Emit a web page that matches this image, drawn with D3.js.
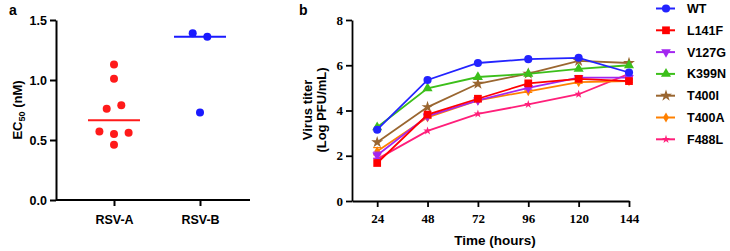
<!DOCTYPE html>
<html>
<head>
<meta charset="utf-8">
<script src="https://cdn.jsdelivr.net/npm/d3@7"></script>
<style>
  body { margin: 0; background: #fff; }
  svg { display: block; }
</style>
</head>
<body>
<svg id="chart" width="730" height="251"></svg>
<script>
// panel a data
const groups = ["RSV-A", "RSV-B"];
const rsvA = [1.13, 1.01, 0.76, 0.79, 0.57, 0.55, 0.56, 0.46];
const rsvB = [1.39, 1.36, 0.73];
const ec50Ticks = [0, 0.5, 1.0, 1.5];

// panel b data
const hours = [24, 48, 72, 96, 120, 144];
const strains = ["WT", "L141F", "V127G", "K399N", "T400I", "T400A", "F488L"];
const wt    = [3.15, 5.35, 6.10, 6.27, 6.33, 5.68];
const l141f = [1.68, 3.82, 4.52, 5.20, 5.40, 5.30];
const v127g = [2.02, 3.75, 4.45, 5.00, 5.45, 5.45];
const k399n = [3.26, 4.98, 5.48, 5.62, 5.84, 6.00];
const t400i = [2.60, 4.15, 5.18, 5.63, 6.19, 6.10];
const t400a = [2.20, 3.70, 4.45, 4.85, 5.25, 5.30];
const f488l = [1.85, 3.10, 3.85, 4.27, 4.72, 5.62];
const errV127G = [0.14, 0.05, 0.05, 0.05, 0.05, 0.05];
const errT400A = [0.16, 0.05, 0.05, 0.05, 0.05, 0.05];
const titerTicks = [0, 2, 4, 6, 8];

const SANS = '"Liberation Sans", Arial, sans-serif';
const SERIF = '"Liberation Serif", "Times New Roman", serif';

const svg = d3.select("#chart");

// ---------- panel a ----------
const ya = d3.scaleLinear().domain([0, 1.5]).range([200, 20]);
const xa = d3.scalePoint().domain(groups).range([114, 200]);
const colorsA = { "RSV-A": "#ff1a1a", "RSV-B": "#1a1aff" };

const gA = svg.append("g");

const yAxisA = d3.axisLeft(ya).tickValues(ec50Ticks).tickFormat(d3.format(".1f"))
  .tickSize(6).tickPadding(3).tickSizeOuter(0);
gA.append("g").attr("transform", "translate(56,0)").call(yAxisA);

const xAxisA = d3.axisBottom(xa).tickSize(6).tickPadding(9).tickSizeOuter(0);
const gxA = gA.append("g").attr("transform", "translate(0,200)").call(xAxisA);
gxA.select(".domain").remove();
gA.append("line").attr("x1", 56).attr("x2", 250).attr("y1", 200).attr("y2", 200)
  .attr("stroke", "#000").attr("stroke-width", 2);

gA.selectAll(".domain, .tick line").attr("stroke", "#000").attr("stroke-width", 2);
gA.selectAll(".tick text").style("font-family", SANS).style("font-weight", "bold")
  .attr("font-size", 12.5).attr("fill", "#000");

// simple row-based jitter like a scatter dot plot
function spread(vals, yScale) {
  const rows = [];
  vals.forEach(v => {
    const last = rows[rows.length - 1];
    if (last && Math.abs(yScale(v) - yScale(last[0])) < 9) last.push(v);
    else rows.push([v]);
  });
  const out = [];
  rows.forEach(r => r.forEach((v, i) => out.push({ v, dx: (i - (r.length - 1) / 2) * 14.6 })));
  return out;
}

[["RSV-A", rsvA], ["RSV-B", rsvB]].forEach(([g, vals]) => {
  const med = d3.median(vals);
  gA.append("line")
    .attr("x1", xa(g) - 26).attr("x2", xa(g) + 26)
    .attr("y1", ya(med)).attr("y2", ya(med))
    .attr("stroke", colorsA[g]).attr("stroke-width", 2);
  gA.selectAll(null).data(spread(vals, ya)).enter().append("circle")
    .attr("cx", d => xa(g) + d.dx)
    .attr("cy", d => ya(d.v))
    .attr("r", 4)
    .attr("fill", colorsA[g]);
});

const labA = gA.append("text").style("font-family", SANS).style("font-weight", "bold")
  .attr("font-size", 13)
  .attr("transform", "translate(22,110) rotate(-90)").attr("text-anchor", "middle");
labA.append("tspan").text("EC");
labA.append("tspan").attr("font-size", 9).attr("dy", 3).text("50");
labA.append("tspan").attr("dy", -3).text(" (nM)");

svg.append("text").style("font-family", SANS).style("font-weight", "bold").attr("font-size", 14)
  .attr("x", 9).attr("y", 15).text("a");

// ---------- panel b ----------
const xb = d3.scaleLinear().domain([12, 144]).range([352, 629]);
const yb = d3.scaleLinear().domain([0, 8]).range([201, 20]);

const gB = svg.append("g");
gB.append("g").attr("transform", "translate(352,0)")
  .call(d3.axisLeft(yb).tickValues(titerTicks).tickSize(6).tickPadding(3).tickSizeOuter(0));
gB.append("g").attr("transform", "translate(0,201)")
  .call(d3.axisBottom(xb).tickValues(hours).tickSize(6).tickPadding(7).tickSizeOuter(0));
gB.selectAll(".domain, .tick line").attr("stroke", "#000").attr("stroke-width", 1.8);
gB.selectAll(".tick text").style("font-family", SERIF).style("font-weight", "bold")
  .attr("font-size", 13).attr("fill", "#000");

gB.append("text").style("font-family", SANS).style("font-weight", "bold").attr("font-size", 13.5)
  .attr("x", 495).attr("y", 245).attr("text-anchor", "middle").text("Time (hours)");
const labB = gB.append("text").style("font-family", SANS).style("font-weight", "bold")
  .attr("font-size", 13)
  .attr("transform", "translate(312,110) rotate(-90)").attr("text-anchor", "middle");
labB.append("tspan").attr("x", 0).text("Virus titer");
labB.append("tspan").attr("x", 0).attr("dy", 14).text("(Log PFU/mL)");

svg.append("text").style("font-family", SANS).style("font-weight", "bold").attr("font-size", 14)
  .attr("x", 299).attr("y", 15).text("b");

const series = [
  { name: "WT",    vals: wt,    color: "#2323ff", sym: d3.symbolCircle,   size: 52, rot: 0 },
  { name: "L141F", vals: l141f, color: "#ff0000", sym: d3.symbolSquare,   size: 60, rot: 0 },
  { name: "V127G", vals: v127g, color: "#a326f0", sym: d3.symbolTriangle, size: 40, rot: 180, err: errV127G },
  { name: "K399N", vals: k399n, color: "#3cbf1a", sym: d3.symbolTriangle, size: 44, rot: 0 },
  { name: "T400I", vals: t400i, color: "#9a6630", sym: d3.symbolStar,     size: 44, rot: 0 },
  { name: "T400A", vals: t400a, color: "#ff8000", sym: d3.symbolDiamond,  size: 30, rot: 0, err: errT400A },
  { name: "F488L", vals: f488l, color: "#ff1f7a", sym: d3.symbolStar,     size: 22, rot: 0 }
];

const line = d3.line().x((d, i) => xb(hours[i])).y(d => yb(d));

// draw last series first so WT ends on top
series.slice().reverse().forEach(s => {
  const g = gB.append("g");
  if (s.err) {
    s.err.forEach((e, i) => {
      const x = xb(hours[i]);
      g.append("line").attr("x1", x).attr("x2", x)
        .attr("y1", yb(s.vals[i] - e)).attr("y2", yb(s.vals[i] + e))
        .attr("stroke", s.color).attr("stroke-width", 1.2);
      [s.vals[i] - e, s.vals[i] + e].forEach(v => {
        g.append("line").attr("x1", x - 4).attr("x2", x + 4)
          .attr("y1", yb(v)).attr("y2", yb(v))
          .attr("stroke", s.color).attr("stroke-width", 1.2);
      });
    });
  }
  g.append("path").datum(s.vals).attr("d", line)
    .attr("fill", "none").attr("stroke", s.color).attr("stroke-width", 1.8);
  g.selectAll(null).data(s.vals).enter().append("path")
    .attr("d", d3.symbol().type(s.sym).size(s.size))
    .attr("transform", (d, i) => `translate(${xb(hours[i])},${yb(d)}) rotate(${s.rot})`)
    .attr("fill", s.color);
});

// legend
const legend = svg.append("g").attr("transform", "translate(656,8.5)");
series.forEach((s, i) => {
  const row = legend.append("g").attr("transform", `translate(0,${i * 21.8})`);
  row.append("line").attr("x1", 0).attr("x2", 19).attr("stroke", s.color).attr("stroke-width", 2);
  row.append("path").attr("d", d3.symbol().type(s.sym).size(s.size))
    .attr("transform", `translate(10,0) rotate(${s.rot})`).attr("fill", s.color);
  row.append("text").style("font-family", SANS).style("font-weight", "bold").attr("font-size", 12.5)
    .attr("x", 31).attr("y", 4.5).text(s.name);
});
</script>
</body>
</html>
